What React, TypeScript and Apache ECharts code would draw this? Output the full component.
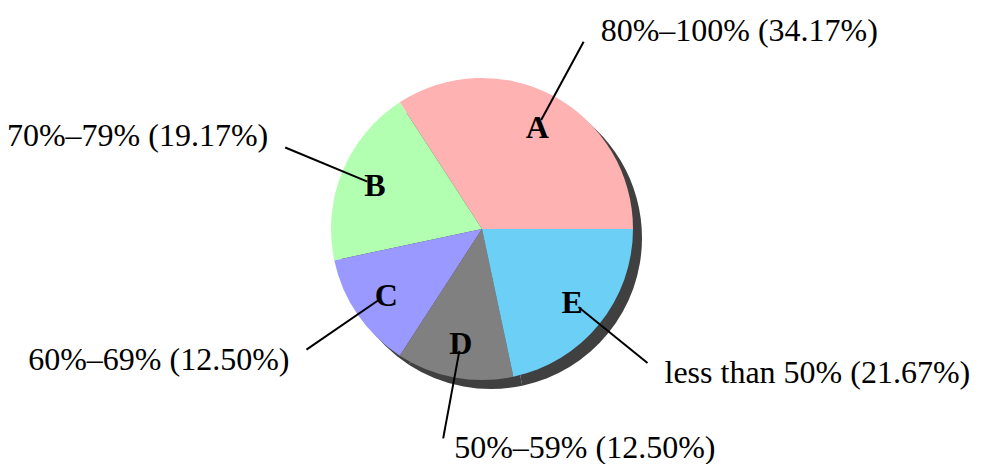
import React, { useEffect, useRef } from "react";
import * as echarts from "echarts";

const letters = ["A", "B", "C", "D", "E"];
const ranges = ["80%–100%", "70%–79%", "60%–69%", "50%–59%", "less than 50%"];
const shares = [34.17, 19.17, 12.5, 12.5, 21.67];
const colors = ["#ffb2b2", "#b2ffb2", "#9999ff", "#808080", "#6bcff6"];

const FONT = "'Liberation Serif', 'DejaVu Serif', serif";

export default function App() {
  const ref = useRef<HTMLDivElement>(null);
  useEffect(() => {
    const chart = echarts.init(ref.current!, null, { renderer: "svg" });
    const guideData = shares.map((v, i) => ({
      value: v,
      name: `${ranges[i]} (${v.toFixed(2)}%)`,
    }));
    const center = [482, 229];
    const R = 151;
    const common = {
      type: "pie",
      startAngle: 0,
      clockwise: false,
      center,
      silent: true,
      avoidLabelOverlap: false,
      emphasis: { disabled: true },
    };
    chart.setOption({
      animation: false,
      series: [
        {
          ...common,
          z: 1,
          center: [center[0] + 9, center[1] + 9],
          radius: R,
          label: { show: false },
          labelLine: { show: false },
          itemStyle: { color: "#404040", borderWidth: 0 },
          data: shares.map((v) => ({ value: v })),
        },
        {
          ...common,
          z: 2,
          radius: R,
          label: { show: false },
          labelLine: { show: false },
          itemStyle: { borderWidth: 0 },
          data: shares.map((v, i) => ({ value: v, itemStyle: { color: colors[i] } })),
        },
        {
          ...common,
          z: 3,
          radius: 124,
          itemStyle: { color: "rgba(0,0,0,0)", borderWidth: 0 },
          label: {
            show: true,
            position: "outside",
            formatter: "{b}",
            fontFamily: FONT,
            fontSize: 32,
            color: "#000",
            distanceToLabelLine: 16,
          },
          labelLine: {
            show: true,
            length: 89,
            length2: 0,
            smooth: false,
            lineStyle: { color: "#000", width: 2 },
          },
          labelLayout: (p: any) => {
            const pts = p.labelLinePoints;
            if (!pts || pts.length < 2) return {};
            const start = pts[0];
            const end = pts[pts.length - 1];
            const dx = end[0] - start[0];
            const dy = end[1] - start[1];
            const len = Math.hypot(dx, dy) || 1;
            const ux = dx / len;
            const uy = dy / len;
            const toRight = ux > -0.3;
            const gap = toRight && ux < 0.3 ? 11 : 17;
            return {
              x: end[0] + (toRight ? gap : -gap),
              y: end[1] + (uy < 0 ? -12 : 9),
              align: toRight ? "left" : "right",
              verticalAlign: "middle",
              labelLinePoints: pts,
            };
          },
          data: guideData,
        },
        {
          ...common,
          z: 4,
          radius: [75, R],
          itemStyle: { color: "rgba(0,0,0,0)", borderWidth: 0 },
          label: {
            show: true,
            position: "inside",
            formatter: "{b}",
            fontFamily: FONT,
            fontWeight: "bold",
            fontSize: 32,
            color: "#000",
          },
          labelLine: { show: false },
          data: shares.map((v, i) => ({ value: v, name: letters[i] })),
        },
      ],
    });
    return () => chart.dispose();
  }, []);
  return (
    <div
      ref={ref}
      style={{ position: "fixed", left: 0, top: 0, width: 991, height: 464, background: "#fff" }}
    />
  );
}
